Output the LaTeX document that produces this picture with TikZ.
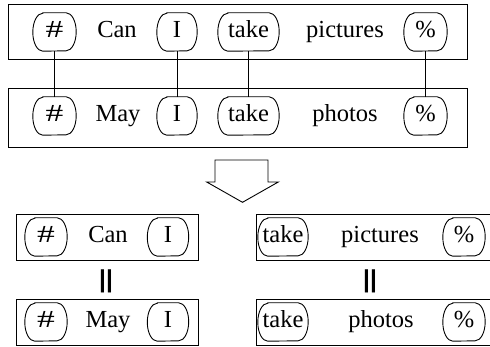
\documentclass[tikz,border=0pt]{standalone}
\usepackage{fontspec}
\setmainfont{Liberation Serif}
\newfontfamily\wordfont{Liberation Serif}
\newfontfamily\barfont{Liberation Sans}
\newcommand\hashsign{\scalebox{1.45}[1]{\#}}
\begin{document}
\begin{tikzpicture}[x=1pt,y=-1pt,
  every node/.style={font=\wordfont\fontsize{24.5}{24.5}\selectfont, text height=16.5pt, text depth=5pt},
  frame/.style={draw, line width=1pt, inner sep=0pt},
  % token: flat top and bottom, elliptic ends
  tok/.style={minimum height=38pt, inner sep=0pt,
    append after command={\pgfextra{
      \draw[line width=0.9pt]
        ([xshift=10pt]\tikzlastnode.north west) -- ([xshift=-10pt]\tikzlastnode.north east)
        arc[start angle=90, end angle=-90, x radius=10pt, y radius=19pt]
        -- ([xshift=10pt]\tikzlastnode.south west)
        arc[start angle=270, end angle=90, x radius=10pt, y radius=19pt] -- cycle;}}},
  word/.style={inner sep=0pt},
  link/.style={line width=0.9pt},
  eqbar/.style={font=\barfont\bfseries\fontsize{24.5}{24.5}\selectfont, inner sep=0pt, text height=17.9pt, text depth=5.1pt},
  hollow/.style={draw, line width=0.9pt, line join=miter}]
\useasboundingbox (0,0) rectangle (490,347);

% upper pair of sentences
\node[frame, minimum width=459.7pt, minimum height=55pt] (s1) at (237.85,31.8) {};
\node[frame, minimum width=459.7pt, minimum height=59.4pt] (s2) at (237.85,118) {};

\node[tok, minimum width=43pt] (a1) at (54.5,32) {\hashsign};
\node[word] (a2) at (117,32) {Can};
\node[tok, minimum width=40pt] (a3) at (177,32) {I};
\node[tok, minimum width=61pt] (a4) at (248.5,32) {take};
\node[word] (a5) at (345,32) {pictures};
\node[tok, minimum width=43pt] (a6) at (425.5,32) {\%};

\node[tok, minimum width=43pt] (b1) at (54.5,116) {\hashsign};
\node[word] (b2) at (118,116) {May};
\node[tok, minimum width=40pt] (b3) at (177,116) {I};
\node[tok, minimum width=61pt] (b4) at (248.5,116) {take};
\node[word] (b5) at (345,116) {photos};
\node[tok, minimum width=43pt] (b6) at (425.5,116) {\%};

% alignment links between shared tokens
\draw[link] (a1) -- (b1);
\draw[link] (a3) -- (b3);
\draw[link] (a4) -- (b4);
\draw[link] (a6) -- (b6);

% hollow down arrow
\draw[hollow] (215,160) -- (268,160) -- (268,182) -- (278.3,182)
  -- (242.5,202.3) -- (206.7,182) -- (215,182) -- cycle;

% left split: prefix segments
\node[frame, minimum width=182pt, minimum height=45.7pt] (l1) at (107,237.85) {};
\node[tok, minimum width=42pt] (c1) at (46,237) {\hashsign};
\node[word] (c2) at (108,237) {Can};
\node[tok, minimum width=41pt] (c3) at (168,237) {I};

\node[eqbar] (e1) at (106,281) {||};

\node[frame, minimum width=182pt, minimum height=46.4pt] (l2) at (107,322.5) {};
\node[tok, minimum width=42pt] (d1) at (46,322) {\hashsign};
\node[word] (d2) at (108,322) {May};
\node[tok, minimum width=41pt] (d3) at (168,322) {I};

% right split: suffix segments
\node[frame, minimum width=235.3pt, minimum height=45.7pt] (r1) at (374.35,237.85) {};
\node[tok, minimum width=50pt] (f1) at (283,237) {take};
\node[word] (f2) at (380,237) {pictures};
\node[tok, minimum width=42pt] (f3) at (464,237) {\%};

\node[eqbar] (e2) at (370,281) {||};

\node[frame, minimum width=235.3pt, minimum height=46.4pt] (r2) at (374.35,322.5) {};
\node[tok, minimum width=50pt] (g1) at (283,322) {take};
\node[word] (g2) at (381,322) {photos};
\node[tok, minimum width=42pt] (g3) at (464,322) {\%};
\end{tikzpicture}
\end{document}
